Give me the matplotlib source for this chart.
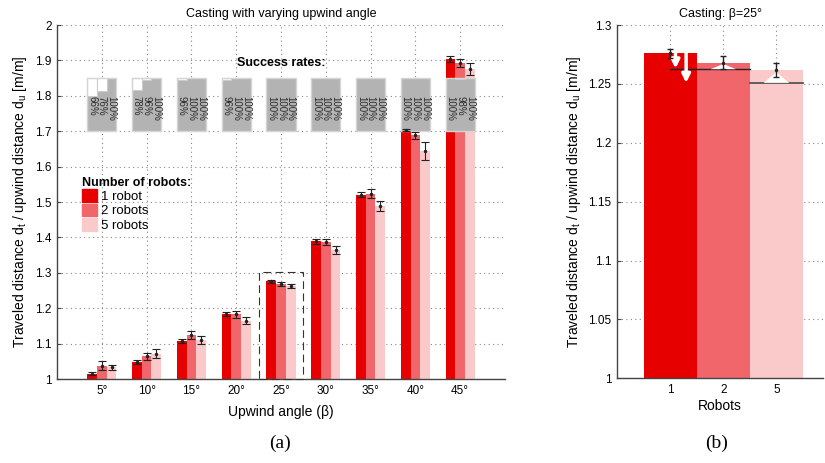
import numpy as np
import matplotlib
matplotlib.use('Agg')
import matplotlib.pyplot as plt
from matplotlib.patches import Patch, Rectangle, Polygon

plt.rcParams['font.family'] = ['Liberation Sans', 'DejaVu Sans']
plt.rcParams['mathtext.fontset'] = 'custom'
plt.rcParams['mathtext.rm'] = 'Liberation Sans'

# data
angles = ['5°', '10°', '15°', '20°', '25°', '30°', '35°', '40°', '45°']
robots = ['1 robot', '2 robots', '5 robots']
dist_1 = [1.015, 1.048, 1.108, 1.184, 1.276, 1.389, 1.521, 1.703, 1.904]
dist_2 = [1.038, 1.064, 1.125, 1.183, 1.268, 1.386, 1.524, 1.688, 1.892]
dist_5 = [1.033, 1.071, 1.110, 1.165, 1.262, 1.364, 1.489, 1.645, 1.876]
err_1 = [0.004, 0.0056, 0.006, 0.005, 0.0036, 0.007, 0.008, 0.003, 0.009]
err_2 = [0.0127, 0.009, 0.012, 0.010, 0.0053, 0.0085, 0.012, 0.010, 0.011]
err_5 = [0.0075, 0.013, 0.011, 0.009, 0.0057, 0.012, 0.0145, 0.025, 0.0165]
success_1 = [66, 78, 96, 96, 100, 100, 100, 100, 100]
success_2 = [76, 96, 100, 100, 100, 100, 100, 100, 98]
success_5 = [100, 100, 100, 100, 100, 100, 100, 100, 100]

robot_ticks = ['1', '2', '5']
cast25 = [dist_1[4], dist_2[4], dist_5[4]]
cast25_err = [err_1[4], err_2[4], err_5[4]]
ref_2 = 1.2631   # black reference line in (b)
ref_5 = 1.2509   # gray reference line in (b)

colors = ['#e60000', '#f0666a', '#facacb']
grid_kw = dict(color='#888888', linestyle=(0, (1, 3)), linewidth=0.8)

fig = plt.figure(figsize=(8.25, 4.63), dpi=100)
ax1 = fig.add_axes([0.0691, 0.1814, 0.543, 0.7646])
ax2 = fig.add_axes([0.748, 0.1829, 0.2497, 0.763])

# ---------- (a) ----------
x = np.arange(1, len(angles) + 1)
w = 0.218
series = [(dist_1, err_1, success_1), (dist_2, err_2, success_2), (dist_5, err_5, success_5)]
box_lo, box_hi = 1.70, 1.85
for i, (d, e, s) in enumerate(series):
    xi = x + (i - 1) * w
    d = np.array(d)
    ax1.bar(xi, d - 1, bottom=1, width=w, color=colors[i], zorder=2)
    ax1.errorbar(xi, d, yerr=e, fmt='.', color='#222222', ms=3, elinewidth=0.8,
                 capsize=2.8, capthick=0.8, zorder=5)
    # success rate columns
    s = np.array(s) / 100.0
    ax1.bar(xi, (box_hi - box_lo) * s, bottom=box_lo, width=w, color='#b3b3b3', zorder=3)
    for xx, ss in zip(xi, s):
        if ss < 1:
            ax1.add_patch(Rectangle((xx - w / 2, box_lo + (box_hi - box_lo) * ss), w,
                                    (box_hi - box_lo) * (1 - ss), fc='white',
                                    ec='#cccccc', lw=0.8, zorder=3.5))
        ax1.text(xx, 1.80, '%d%%' % round(ss * 100), rotation=-90, ha='center', va='top',
                 fontsize=7, color='#2a2a2a', zorder=4)
for xx in x:
    ax1.add_patch(Rectangle((xx - 1.5 * w, box_lo), 3 * w, box_hi - box_lo, fill=False,
                            ec='#d5d5d5', lw=1, zorder=3.6))

ax1.text(5, 1.893, 'Success rates:', ha='center', va='center', fontsize=9, fontweight='bold')
ax1.add_patch(Rectangle((4.5, 1.0), 1.0, 0.302, fill=False, ec='#333333', lw=0.8,
                        ls=(0, (7, 4)), zorder=6, clip_on=False))

handles = [Patch(color=c) for c in colors]
leg = ax1.legend(handles, robots, title='Number of robots:', loc='upper left',
                 bbox_to_anchor=(0.055, 0.572), frameon=False, fontsize=9.5,
                 handlelength=1.2, handleheight=1.1, labelspacing=0.05,
                 handletextpad=0.3, borderpad=0, borderaxespad=0,
                 title_fontproperties={'weight': 'bold', 'size': 9})
leg._legend_box.align = 'left'

ax1.set_xlim(0, 10)
ax1.set_ylim(1, 2)
ax1.set_xticks(x)
ax1.set_xticklabels(angles)
ax1.set_yticks(np.arange(1, 2.01, 0.1))
ax1.set_yticklabels(['1', '1.1', '1.2', '1.3', '1.4', '1.5', '1.6', '1.7', '1.8', '1.9', '2'])
ax1.grid(True, **grid_kw)
ax1.set_axisbelow(True)
ax1.set_title('Casting with varying upwind angle', fontsize=9, pad=6)
ax1.set_xlabel('Upwind angle (β)', fontsize=10, labelpad=6)
ax1.set_ylabel('Traveled distance d$_\\mathrm{t}$ / upwind distance d$_\\mathrm{u}$ [m/m]', fontsize=10)

# ---------- (b) ----------
xr = np.arange(1, 4)
for i in range(3):
    ax2.bar(xr[i], cast25[i] - 1, bottom=1, width=1.0, color=colors[i], zorder=2)
ax2.plot([1.0, 2.5], [ref_2, ref_2], color='#222222', lw=1, zorder=3)
ax2.plot([2.5, 3.5], [ref_5, ref_5], color='#555555', lw=1.3, zorder=3)
for xa, ya in [(1.1, ref_2), (1.3, ref_5)]:
    ax2.annotate('', xy=(xa, ya), xytext=(xa, cast25[0]),
                 arrowprops=dict(arrowstyle='-|>', color='white', lw=2.5,
                                 mutation_scale=12, shrinkA=0, shrinkB=0), zorder=4)
for xc, base, tip in [(2, ref_2 - 0.0006, cast25[1] - 0.001), (3, ref_5, cast25[2] - 0.002)]:
    ax2.add_patch(Polygon([(xc - 0.24, base), (xc, tip), (xc + 0.24, base)],
                          closed=True, fc='white', ec='none', zorder=4))
ax2.errorbar(xr, cast25, yerr=cast25_err, fmt='.', color='#222222', ms=3,
             elinewidth=1, capsize=2, capthick=1, zorder=5)

ax2.set_xlim(0, 3.88)
ax2.set_ylim(1, 1.3)
ax2.set_xticks(xr)
ax2.set_xticklabels(robot_ticks)
ax2.set_yticks([1, 1.05, 1.1, 1.15, 1.2, 1.25, 1.3])
ax2.set_yticklabels(['1', '1.05', '1.1', '1.15', '1.2', '1.25', '1.3'])
ax2.grid(True, **grid_kw)
ax2.set_axisbelow(True)
ax2.set_title('Casting: β=25°', fontsize=9, pad=6)
ax2.set_xlabel('Robots', fontsize=10, labelpad=2)
ax2.set_ylabel('Traveled distance d$_\\mathrm{t}$ / upwind distance d$_\\mathrm{u}$ [m/m]', fontsize=10)

for ax in (ax1, ax2):
    for side in ('top', 'right'):
        ax.spines[side].set_visible(False)
    for side in ('left', 'bottom'):
        ax.spines[side].set_color('#444444')
        ax.spines[side].set_linewidth(1)
    ax.tick_params(direction='in', length=3, labelsize=8.5, color='#444444', pad=4)

fig.text(0.34, 0.043, '(a)', ha='center', va='center', fontsize=14, family='Liberation Serif')
fig.text(0.869, 0.043, '(b)', ha='center', va='center', fontsize=14, family='Liberation Serif')

fig.savefig('out.png', dpi=100)
